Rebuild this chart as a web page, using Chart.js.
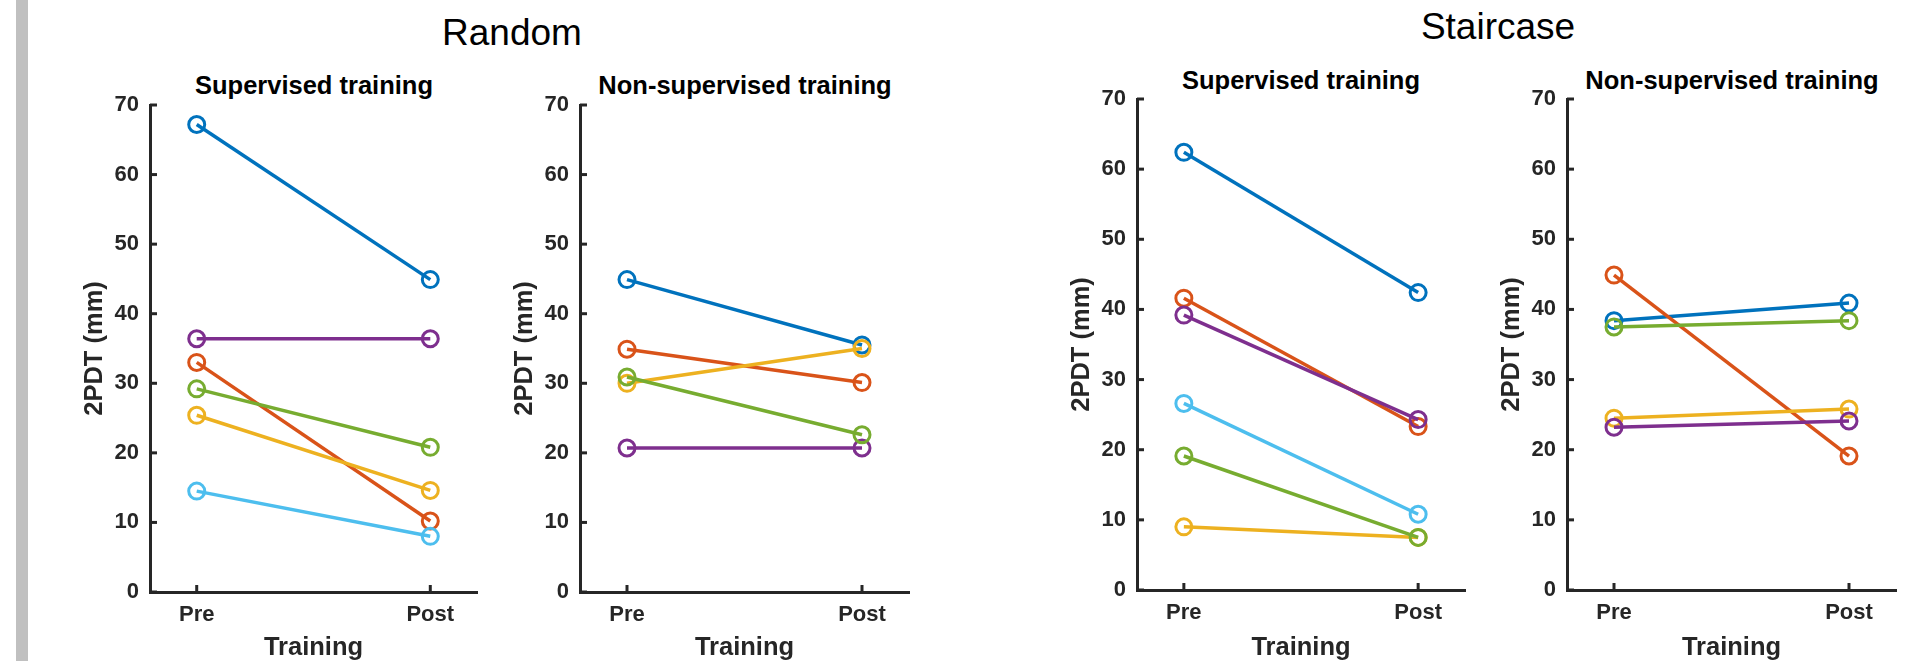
<!DOCTYPE html>
<html>
<head>
<meta charset="utf-8">
<script src="https://cdn.jsdelivr.net/npm/chart.js@4.4.1/dist/chart.umd.min.js"></script>
<style>
html,body{margin:0;padding:0;background:#fff;width:1918px;height:661px;overflow:hidden;position:relative;font-family:"Liberation Sans",Arial,Helvetica,sans-serif;}
.bar{position:absolute;left:16px;top:0;width:12px;height:661px;background:#c0c0c0;}
.t{position:absolute;white-space:nowrap;line-height:1;transform:translateX(-50%);color:#000;}
.main{font-size:37px;font-weight:normal;}
.sub{font-size:25.5px;font-weight:bold;}
canvas{position:absolute;top:0;}
</style>
</head>
<body>
<div class="bar"></div>
<div class="t main" style="left:512px;top:14.4px;">Random</div>
<div class="t main" style="left:1498px;top:8px;">Staircase</div>
<div class="t sub" style="left:314px;top:73.4px;">Supervised training</div>
<div class="t sub" style="left:745px;top:73.4px;">Non-supervised training</div>
<div class="t sub" style="left:1301px;top:68.4px;">Supervised training</div>
<div class="t sub" style="left:1732px;top:68.4px;">Non-supervised training</div>
<canvas id="c1"></canvas>
<canvas id="c2"></canvas>
<canvas id="c3"></canvas>
<canvas id="c4"></canvas>
<script>
// ---- data ----
const categories = ['Pre', 'Post'];
const yTickValues = [0, 10, 20, 30, 40, 50, 60, 70];
const seriesColors = ['#0072BD', '#D95319', '#EDB120', '#7E2F8E', '#77AC30', '#4DBEEE'];

const randomSupervisedPre  = [67.2, 33.0, 25.4, 36.4, 29.2, 14.5];
const randomSupervisedPost = [44.9, 10.2, 14.6, 36.4, 20.8, 8.0];

const randomNonSupervisedPre  = [44.9, 34.9, 30.0, 20.7, 30.9];
const randomNonSupervisedPost = [35.5, 30.1, 35.0, 20.7, 22.6];

const staircaseSupervisedPre  = [62.4, 41.6, 9.0, 39.2, 19.1, 26.6];
const staircaseSupervisedPost = [42.4, 23.3, 7.5, 24.3, 7.5, 10.8];

const staircaseNonSupervisedPre  = [38.4, 44.9, 24.5, 23.2, 37.5];
const staircaseNonSupervisedPost = [40.9, 19.1, 25.8, 24.1, 38.4];

// ---- layout (plot area edges in page pixels) ----
const panels = [
  {id:'c1', pre: randomSupervisedPre, post: randomSupervisedPost, left:150, right:478, top:105, bottom:592},
  {id:'c2', pre: randomNonSupervisedPre, post: randomNonSupervisedPost, left:580, right:910, top:105, bottom:592},
  {id:'c3', pre: staircaseSupervisedPre, post: staircaseSupervisedPost, left:1137, right:1466, top:99, bottom:590},
  {id:'c4', pre: staircaseNonSupervisedPre, post: staircaseNonSupervisedPost, left:1567, right:1897, top:99, bottom:590}
];

const FONT = '"Liberation Sans", Arial, Helvetica, sans-serif';
const AXIS = '#262626';
const H = 661;
const YW = 100;  // y-scale box width
const RP = 10;   // right padding

const inwardTicks = {
  id: 'inwardTicks',
  beforeDatasetsDraw(chart) {
    const {ctx, chartArea, scales} = chart;
    const x = scales.x, y = scales.y;
    ctx.save();
    ctx.strokeStyle = AXIS;
    ctx.lineWidth = 3;
    ctx.lineCap = 'butt';
    yTickValues.forEach(v => {
      const py = y.getPixelForValue(v);
      ctx.beginPath();
      ctx.moveTo(chartArea.left, py);
      ctx.lineTo(chartArea.left + 7, py);
      ctx.stroke();
    });
    categories.forEach((c, i) => {
      const px = x.getPixelForValue(i + 1);
      ctx.beginPath();
      ctx.moveTo(px, chartArea.bottom);
      ctx.lineTo(px, chartArea.bottom - 7);
      ctx.stroke();
    });
    ctx.restore();
  }
};

panels.forEach(p => {
  const cv = document.getElementById(p.id);
  const w = (p.right - p.left) + YW + RP;
  cv.width = w; cv.height = H;
  cv.style.width = w + 'px'; cv.style.height = H + 'px';
  cv.style.left = (p.left - YW) + 'px';

  const datasets = p.pre.map((v, i) => ({
    label: 'S' + (i + 1),
    data: [{x: 1, y: p.pre[i]}, {x: 2, y: p.post[i]}],
    borderColor: seriesColors[i],
    backgroundColor: 'rgba(0,0,0,0)',
    borderWidth: 3.5,
    pointRadius: 8,
    pointBorderWidth: 3,
    pointBorderColor: seriesColors[i],
    pointBackgroundColor: 'rgba(0,0,0,0)',
    pointStyle: 'circle',
    tension: 0,
    fill: false,
    clip: false,
    order: -i
  }));

  new Chart(cv, {
    type: 'line',
    data: {datasets},
    plugins: [inwardTicks],
    options: {
      responsive: false,
      animation: false,
      devicePixelRatio: 1,
      events: [],
      layout: {padding: {left: 0, right: RP, top: p.top, bottom: 0}},
      plugins: {legend: {display: false}, title: {display: false}, tooltip: {enabled: false}},
      scales: {
        x: {
          type: 'linear', min: 0.8, max: 2.2,
          afterBuildTicks: s => { s.ticks = categories.map((c, i) => ({value: i + 1})); },
          afterFit: s => { s.height = H - p.bottom; },
          grid: {display: false, drawTicks: false},
          border: {display: true, width: 3, color: AXIS},
          ticks: {
            padding: 10, color: AXIS, autoSkip: false, maxRotation: 0,
            font: {family: FONT, size: 22, weight: 'bold'},
            callback: v => categories[Math.round(v) - 1] || ''
          },
          title: {
            display: true, text: 'Training', color: AXIS,
            font: {family: FONT, size: 25.5, weight: 'bold', lineHeight: 1},
            padding: {top: 0, bottom: 0.25}
          }
        },
        y: {
          type: 'linear', min: 0, max: 70,
          afterBuildTicks: s => { s.ticks = yTickValues.map(v => ({value: v})); },
          afterFit: s => { s.width = YW; },
          grid: {display: false, drawTicks: false},
          border: {display: true, width: 3, color: AXIS},
          ticks: {
            padding: 11, color: AXIS,
            font: {family: FONT, size: 22, weight: 'bold'}
          },
          title: {
            display: true, text: '2PDT (mm)', color: AXIS,
            font: {family: FONT, size: 25.5, weight: 'bold', lineHeight: 1.2},
            padding: {top: 29.7, bottom: 0}
          }
        }
      }
    }
  });
});
</script>
</body>
</html>
